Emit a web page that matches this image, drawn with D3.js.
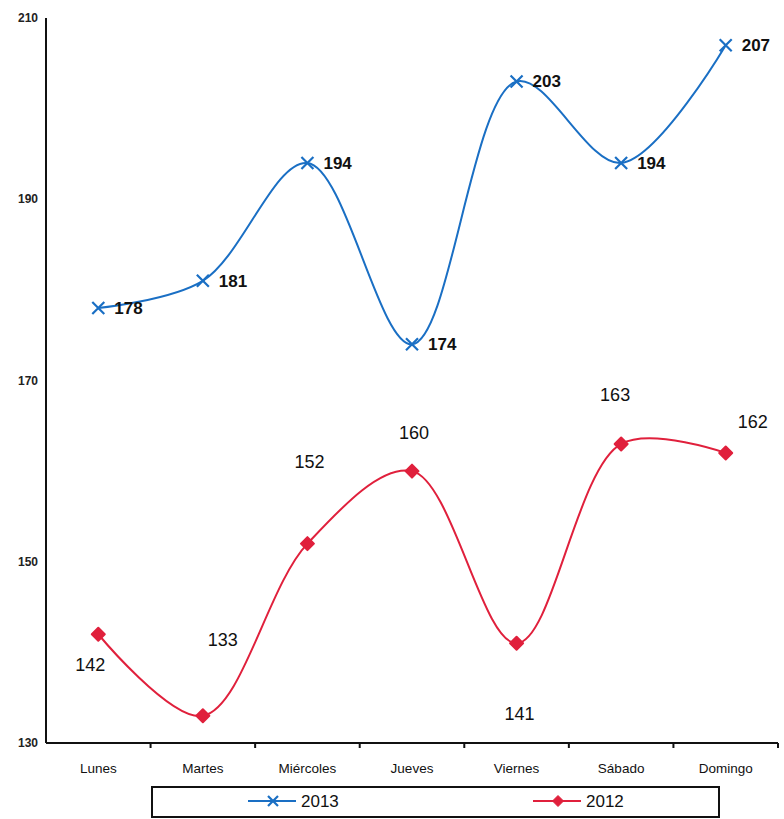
<!DOCTYPE html>
<html><head><meta charset="utf-8">
<script src="https://cdn.jsdelivr.net/npm/d3@7"></script>
<style>body{margin:0;background:#fff}svg{display:block}</style>
</head><body>
<svg id="chart" width="784" height="819"></svg>
<script>
const categories = ["Lunes","Martes","Miércoles","Jueves","Viernes","Sábado","Domingo"];
const values2013 = [178,181,194,174,203,194,207];
const values2012 = [142,133,152,160,141,163,162];
const yTicks = [130,150,170,190,210];
const seriesNames = ["2013","2012"];
// label placement offsets for 2012 labels (dx, dy from point)
const offsets2012 = [[-8,37],[20,-70],[2,-76],[2,-32],[3,77],[-6,-43],[27,-25]];

(function(){
const svg = d3.select("#chart");
const mL = 46, mR = 778, mT = 18, mB = 743;
const x = d3.scaleBand().domain(categories).range([mL,mR]);
const y = d3.scaleLinear().domain([130,210]).range([mB,mT]);
const cx = d => x(d) + x.bandwidth()/2;
const font = "'Liberation Sans', Arial, sans-serif";
const blue = "#1a6fc4", red = "#e0203c";
const crossPath = s => `M${-s},${-s}L${s},${s}M${-s},${s}L${s},${-s}`;
const diamondPath = s => `M0,${-s}L${s},0L0,${s}L${-s},0Z`;

// axes
svg.append("line").attr("x1",mL).attr("x2",mL).attr("y1",mT).attr("y2",mB)
  .attr("stroke","#111").attr("stroke-width",2);
svg.append("line").attr("x1",mL).attr("x2",mR).attr("y1",mB).attr("y2",mB)
  .attr("stroke","#111").attr("stroke-width",2);
const bounds = categories.map(c => x(c)).concat([mR]).slice(1);
svg.selectAll(".xt").data(bounds).enter().append("line")
  .attr("x1",d=>d).attr("x2",d=>d).attr("y1",mB).attr("y2",mB+5)
  .attr("stroke","#111").attr("stroke-width",2);
svg.selectAll(".yl").data(yTicks).enter().append("text")
  .attr("x",38).attr("y",d=>y(d)+4).attr("text-anchor","end")
  .attr("font-family",font).attr("font-size",12).attr("font-weight","bold").attr("fill","#222")
  .text(d=>d);
svg.selectAll(".xl").data(categories).enter().append("text")
  .attr("x",d=>cx(d)).attr("y",773).attr("text-anchor","middle")
  .attr("font-family",font).attr("font-size",13.5).attr("fill","#111")
  .text(d=>d);

const line = d3.line().curve(d3.curveCatmullRom.alpha(0.5))
  .x((d,i)=>cx(categories[i])).y(d=>y(d));

// 2012
svg.append("path").attr("d",line(values2012)).attr("fill","none")
  .attr("stroke",red).attr("stroke-width",2);
svg.selectAll(".m12").data(values2012).enter().append("path")
  .attr("d",diamondPath(6.5))
  .attr("transform",(d,i)=>`translate(${cx(categories[i])},${y(d)})`)
  .attr("fill",red).attr("stroke",red).attr("stroke-linejoin","round").attr("stroke-width",2);
svg.selectAll(".l12").data(values2012).enter().append("text")
  .attr("x",(d,i)=>cx(categories[i])+offsets2012[i][0])
  .attr("y",(d,i)=>y(d)+offsets2012[i][1])
  .attr("text-anchor","middle")
  .attr("font-family",font).attr("font-size",18).attr("fill","#111")
  .text(d=>d);

// 2013
svg.append("path").attr("d",line(values2013)).attr("fill","none")
  .attr("stroke",blue).attr("stroke-width",2);
svg.selectAll(".m13").data(values2013).enter().append("path")
  .attr("d",crossPath(6))
  .attr("transform",(d,i)=>`translate(${cx(categories[i])},${y(d)})`)
  .attr("fill","none").attr("stroke",blue).attr("stroke-width",2.2);
svg.selectAll(".l13").data(values2013).enter().append("text")
  .attr("x",(d,i)=>cx(categories[i])+16)
  .attr("y",(d,i)=>y(d)+6)
  .attr("font-family",font).attr("font-size",17).attr("font-weight","bold").attr("fill","#111")
  .text(d=>d);

// legend
svg.append("rect").attr("x",152).attr("y",787).attr("width",567).attr("height",30)
  .attr("fill","#fff").attr("stroke","#111").attr("stroke-width",2);
const lg = [{name:seriesNames[0],x:248,color:blue,sym:"x"},{name:seriesNames[1],x:533,color:red,sym:"d"}];
lg.forEach(l=>{
  svg.append("line").attr("x1",l.x).attr("x2",l.x+48).attr("y1",801).attr("y2",801)
    .attr("stroke",l.color).attr("stroke-width",2);
  if(l.sym==="x"){
    svg.append("path").attr("d",crossPath(5))
      .attr("transform",`translate(${l.x+25},801)`).attr("fill","none").attr("stroke",l.color).attr("stroke-width",2.2);
  } else {
    svg.append("path").attr("d",diamondPath(5.5))
      .attr("transform",`translate(${l.x+25},801)`).attr("fill",l.color).attr("stroke",l.color).attr("stroke-linejoin","round");
  }
  svg.append("text").attr("x",l.x+53).attr("y",807)
    .attr("font-family",font).attr("font-size",17).attr("fill","#111").text(l.name);
});
})();
</script>
</body></html>
